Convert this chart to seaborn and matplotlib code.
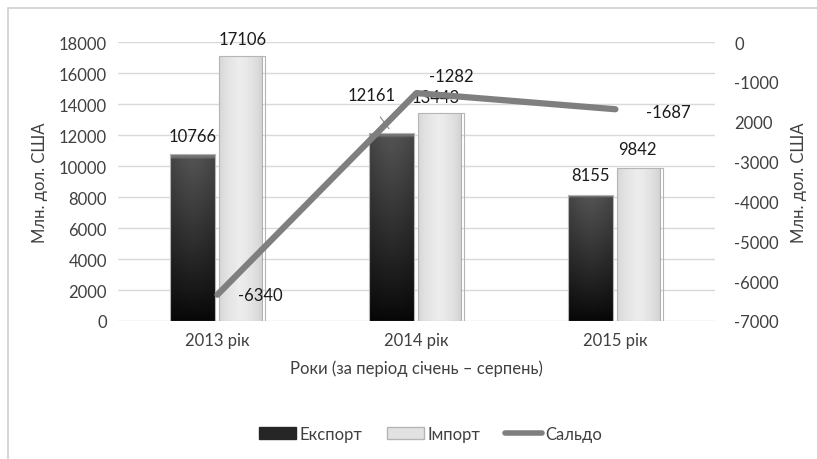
import pandas as pd
import numpy as np
import matplotlib
matplotlib.use('Agg')
import matplotlib.pyplot as plt
import seaborn as sns
from matplotlib.patches import Patch, Rectangle
from matplotlib.lines import Line2D

# Data
years = ['2013 рік', '2014 рік', '2015 рік']
export_vals = [10766, 12161, 8155]
import_vals = [17106, 13443, 9842]
saldo_vals = [-6340, -1282, -1687]
right_ticks = [0, -1000, -2000, -3000, -4000, -5000, -6000, -7000]
right_tick_labels = ['0', '-1000', '2000', '-3000', '-4000', '-5000', '-6000', '-7000']

sns.set_style('white')
plt.rcParams['font.family'] = ['Lato', 'DejaVu Sans']
text_col = '#404040'

df = pd.DataFrame({
    'year': years * 2,
    'value': export_vals + import_vals,
    'series': ['Експорт'] * 3 + ['Імпорт'] * 3,
})

fig = plt.figure(figsize=(8.17, 4.6), dpi=100)
ax = fig.add_axes([0.1444, 0.30, 0.7306, 0.6065])

sns.barplot(data=df, x='year', y='value', hue='series',
            palette={'Експорт': '#262626', 'Імпорт': '#e2e2e2'},
            width=0.5, gap=0.08, edgecolor='#b5b5b5', linewidth=0.8,
            legend=False, ax=ax)

# shaded fill for the bars (gradient clipped to each bar)
xs = np.linspace(0, 1, 40)
ys = np.linspace(0, 1, 80)[:, None]
side = 1 - 0.5 * np.abs(xs - 0.5) ** 1.5
exp_grad = (0.03 + 0.30 * ys ** 0.9) * side
exp_grad[-2:, :] = 0.45
imp_grad = np.clip(0.80 + 0.13 * (1 - np.abs(xs - 0.45) * 2) ** 0.5 + 0 * ys, 0, 1)
for cont, grad in zip(ax.containers, [exp_grad, imp_grad]):
    for bar in cont:
        x0, w, h = bar.get_x(), bar.get_width(), bar.get_height()
        im = ax.imshow(grad, extent=(x0, x0 + w, 0, h), origin='lower',
                       aspect='auto', cmap='gray', vmin=0, vmax=1,
                       zorder=bar.get_zorder() + 0.1, interpolation='bilinear')
        im.set_clip_path(bar)
        bar.set_zorder(bar.get_zorder() + 0.2)
        bar.set_facecolor('none')

ax.set_ylim(0, 18000)
ax.set_yticks(range(0, 18001, 2000))
ax.yaxis.grid(True, color='#d9d9d9', linewidth=1)
ax.set_axisbelow(True)
for s in ax.spines.values():
    s.set_visible(False)
ax.tick_params(axis='both', length=0, labelsize=12, labelcolor=text_col, pad=8)
ax.set_xlabel('Роки (за період січень – серпень)', fontsize=12, color=text_col, labelpad=8)
ax.set_ylabel('Млн. дол. США', fontsize=12, color=text_col, labelpad=8)

# secondary axis for saldo
ax2 = ax.twinx()
sns.lineplot(x=[0, 1, 2], y=saldo_vals, color='#7f7f7f', linewidth=4.5, ax=ax2)
ax2.set_ylim(-7000, 0)
ax2.set_yticks(right_ticks)
ax2.set_yticklabels(right_tick_labels)
for s in ax2.spines.values():
    s.set_visible(False)
ax2.tick_params(axis='y', length=0, labelsize=12, labelcolor=text_col, pad=14)
ax2.set_ylabel('Млн. дол. США', fontsize=12, color=text_col, labelpad=6)
ax2.yaxis.set_label_coords(1.128, 0.5)
ax.set_xlim(-0.5, 2.5)

# data labels
lab = dict(fontsize=12, color='#1a1a1a', ha='center', va='center')
offs_exp = [(0, 13), (-14, 27), (0, 14)]
offs_imp = [(0, 12), (-4, 11), (-2, 14)]
for i in range(3):
    ax.annotate(str(export_vals[i]), (i - 0.125, export_vals[i]),
                xytext=offs_exp[i], textcoords='offset points', zorder=5, **lab)
    ax.annotate(str(import_vals[i]), (i + 0.125, import_vals[i]),
                xytext=offs_imp[i], textcoords='offset points', zorder=5, **lab)
ax.annotate('', (1 - 0.13, export_vals[1] + 100), xytext=(1 - 0.19, export_vals[1] + 1150),
            arrowprops=dict(arrowstyle='-', color='#8c8c8c', lw=0.8), zorder=5)
offs_sal = [(31, 0), (25, 12), (38, -2)]
for i in range(3):
    ax2.annotate(str(saldo_vals[i]), (i, saldo_vals[i]),
                 xytext=offs_sal[i], textcoords='offset points', **lab)

handles = [Patch(facecolor='#262626', edgecolor='#262626'),
           Patch(facecolor='#e2e2e2', edgecolor='#b5b5b5'),
           Line2D([0], [0], color='#7f7f7f', lw=4)]
fig.legend(handles, ['Експорт', 'Імпорт', 'Сальдо'], loc='center',
           bbox_to_anchor=(0.527, 0.054), ncol=3, frameon=False, fontsize=12,
           handlelength=2.2, handletextpad=0.2, columnspacing=1.5,
           labelcolor=text_col)

fig.patches.append(Rectangle((0.01, -0.01), 1.0, 0.99, transform=fig.transFigure,
                             fill=False, edgecolor='#d0d0d0', linewidth=1.2))

fig.savefig('out.png', dpi=100)
